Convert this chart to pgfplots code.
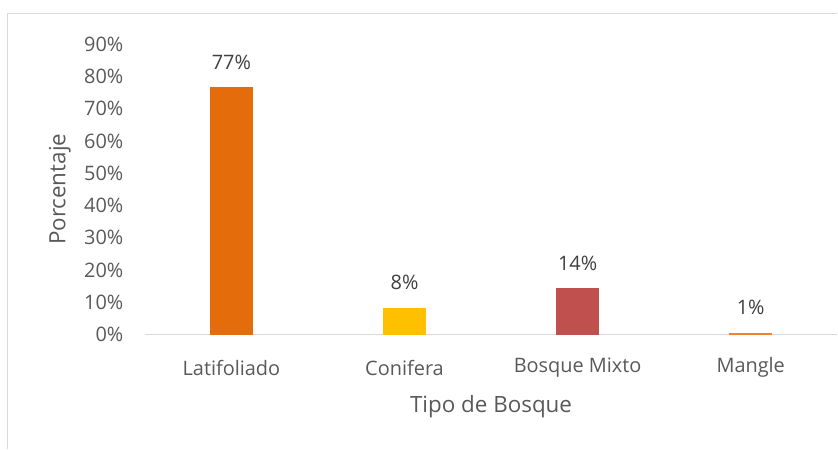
\documentclass[border=0pt]{standalone}
\usepackage{fontspec}
\setmainfont{Open Sans}
\usepackage{pgfplots}
\pgfplotsset{compat=1.18}
\definecolor{txt}{HTML}{595959}
\definecolor{lbl}{HTML}{404040}
\definecolor{axl}{HTML}{D9D9D9}
\definecolor{c1}{HTML}{E46C0A}
\definecolor{c2}{HTML}{FFC000}
\definecolor{c3}{HTML}{C0504D}
\definecolor{c4}{HTML}{F07F2F}
\newcommand\fs{\fontsize{20}{24}\selectfont}
\newcommand\fsb{\fontsize{22.5}{27}\selectfont}

\begin{document}
\begin{tikzpicture}
\begin{axis}[
    at={(0,0)}, anchor=south west,
    scale only axis,
    width=693bp, height=291bp,
    ybar, bar width=43bp, bar shift=0pt,
    xmin=-0.5, xmax=3.5,
    ymin=0, ymax=90,
    xtick={0,1,2,3},
    xticklabels={{\fs Latifoliado}, {\fs Conifera}, {\fs Bosque Mixto}, {\fs Mangle}},
    ytick={0,10,...,90},
    yticklabel={\fs\pgfmathprintnumber{\tick}\%},
    /pgf/number format/assume math mode=true,
    major tick length=0pt,
    axis line style={draw=none},
    axis x line*=bottom, axis y line*=left,
    x axis line style={draw=axl, line width=1.5pt},
    tick label style={text=txt},
    xticklabel style={anchor=center, yshift=-33bp},
    yticklabel style={anchor=east, xshift=-18bp},
    xlabel={\fsb Tipo de Bosque},
    ylabel={\fsb Porcentaje},
    label style={text=txt},
    xlabel style={at={(axis description cs:0.5,0)}, anchor=center, yshift=-72bp},
    ylabel style={at={([xshift=-85bp]axis description cs:0,0.5)}, anchor=center},
    nodes near coords={\fs\pgfmathprintnumber[fixed,precision=0]{\pgfplotspointmeta}\%},
    nodes near coords style={text=lbl, anchor=center, yshift=25bp},
    clip=false,
]
\addplot[fill=c1, draw=none] coordinates {(0,76.6)};
\addplot[fill=c2, draw=none] coordinates {(1,8.4)};
\addplot[fill=c3, draw=none] coordinates {(2,14.4)};
\addplot[fill=c4, draw=none] coordinates {(3,0.6)};
\end{axis}
\draw[axl, line width=1pt] (-137bp,-114bp) -- (-137bp,321bp) -- (693bp,321bp);
\useasboundingbox (-145bp,-114bp) rectangle (693bp,335bp);
\end{tikzpicture}
\end{document}
